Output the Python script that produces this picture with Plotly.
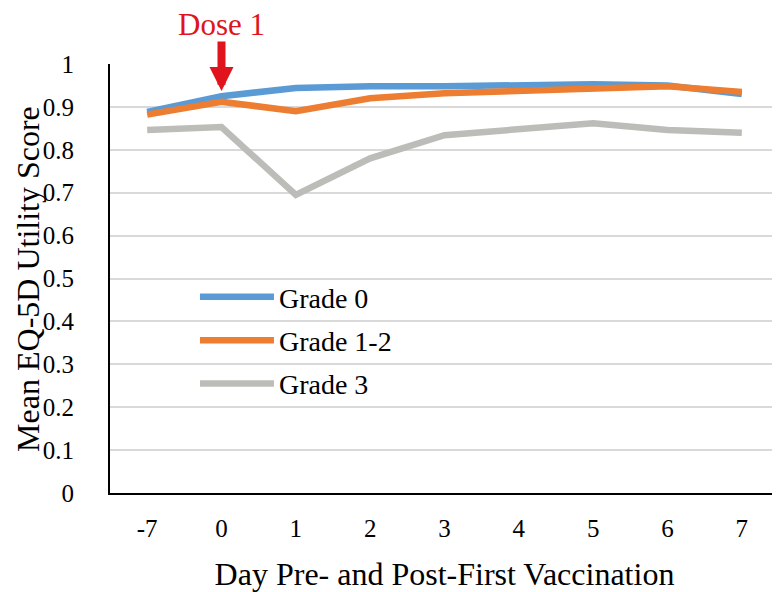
import plotly.graph_objects as go

days = ["-7", "0", "1", "2", "3", "4", "5", "6", "7"]
grade0 = [0.888, 0.925, 0.944, 0.948, 0.948, 0.950, 0.953, 0.950, 0.930]
grade12 = [0.882, 0.912, 0.890, 0.920, 0.932, 0.938, 0.945, 0.948, 0.935]
grade3 = [0.846, 0.853, 0.695, 0.780, 0.834, 0.848, 0.862, 0.846, 0.840]
y_ticks = [0, 0.1, 0.2, 0.3, 0.4, 0.5, 0.6, 0.7, 0.8, 0.9, 1]
y_tick_labels = ["0", "0.1", "0.2", "0.3", "0.4", "0.5", "0.6", "0.7", "0.8", "0.9", "1"]
dose_day_index = 1
arrow_tip_value = 0.937

FONT = "Liberation Serif, Times New Roman, serif"
RED = "#E0141C"

fig = go.Figure()
series = [("Grade 0", grade0, "#5B9BD5"),
          ("Grade 1-2", grade12, "#ED7D31"),
          ("Grade 3", grade3, "#BCBCB8")]
for name, vals, col in series:
    fig.add_trace(go.Scatter(x=days, y=vals, mode="lines", name=name,
                             legendgroup=name,
                             line=dict(color=col, width=6.5)))

# arrow
fig.add_annotation(x=dose_day_index, y=arrow_tip_value, xref="x", yref="y",
                   text="", showarrow=True, ax=0, ay=-51, standoff=0,
                   arrowhead=2, arrowsize=0.6, arrowwidth=8,
                   arrowcolor=RED)
# label
fig.add_annotation(x=dose_day_index, y=1.092, xref="x", yref="paper",
                   text="Dose 1", showarrow=False, yanchor="middle",
                   font=dict(family=FONT, size=31, color=RED))
# y-axis title
fig.add_annotation(x=-0.1235, y=0.5, xref="paper", yref="paper",
                   text="Mean EQ-5D Utility Score", showarrow=False,
                   textangle=-90, xanchor="center", yanchor="middle",
                   font=dict(family=FONT, size=32, color="black"))

fig.update_layout(
    width=772, height=584,
    margin=dict(l=102, r=1, t=56, b=99),
    paper_bgcolor="white", plot_bgcolor="white",
    font=dict(family=FONT, size=25, color="black"),
    showlegend=True,
    legend=dict(x=0.127, y=0.515, xanchor="left", yanchor="top",
                bgcolor="rgba(0,0,0,0)", tracegroupgap=4, itemwidth=74,
                font=dict(family=FONT, size=28, color="black")),
    xaxis=dict(type="category", categoryorder="array", categoryarray=days,
               range=[-0.5, 8.5], showgrid=False, showline=True,
               linecolor="black", linewidth=2, ticks="", automargin=False,
               ticklabelstandoff=12,
               tickfont=dict(family=FONT, size=25),
               title=dict(text="Day Pre- and Post-First Vaccination",
                          font=dict(family=FONT, size=32), standoff=24)),
    yaxis=dict(range=[0, 1.0], tickvals=y_ticks, ticktext=y_tick_labels,
               showgrid=True, gridcolor="#D9D9D9", gridwidth=2,
               showline=True, linecolor="black", linewidth=2, ticks="",
               zeroline=False, ticklabelstandoff=29, automargin=False,
               tickfont=dict(family=FONT, size=25)),
)

fig.write_html("out.html")
